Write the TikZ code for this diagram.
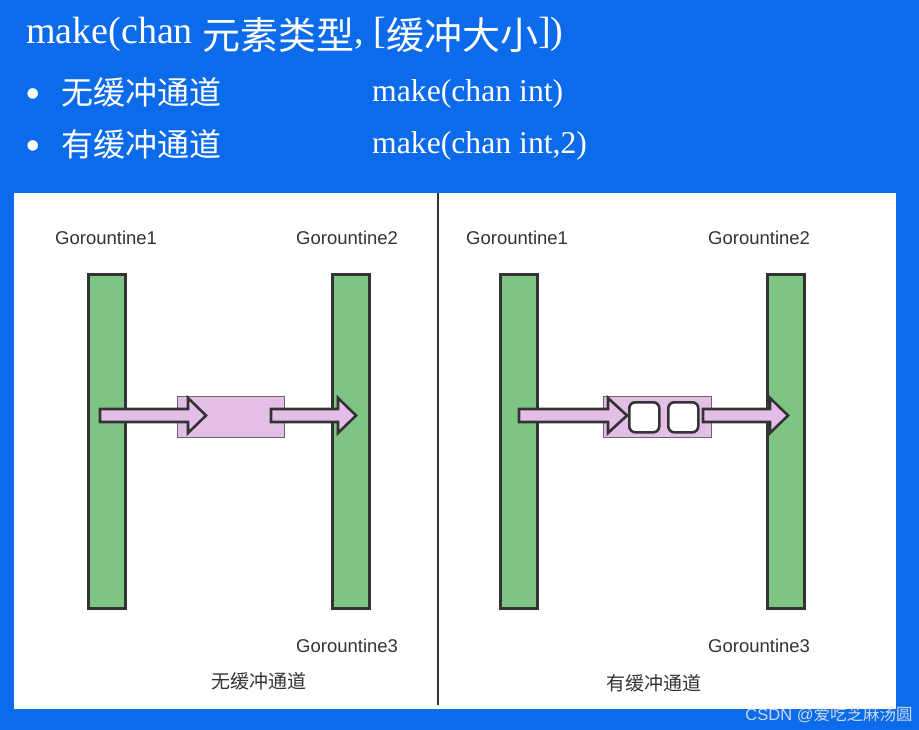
\documentclass[tikz,border=0pt]{standalone}
\usepackage{fontspec}
\setmainfont{Liberation Serif}
\newfontfamily\cjk{Noto Sans CJK SC}
\newfontfamily\lsans{Liberation Sans}
\definecolor{bgblue}{RGB}{12,107,234}
\definecolor{bargreen}{RGB}{126,196,131}
\definecolor{chanpink}{RGB}{227,191,232}
\definecolor{edgegray}{RGB}{51,51,51}
\newcommand\fatarrow[4]{%
  \draw[fatarr] (#1,{#4-6.5}) -- (#2,{#4-6.5}) -- (#2,{#4-17.5}) -- (#3,#4)
    -- (#2,{#4+17.5}) -- (#2,{#4+6.5}) -- (#1,{#4+6.5}) -- cycle;}
\begin{document}
\begin{tikzpicture}[x=1pt,y=-1pt,
  bar/.style={draw=edgegray,line width=2.8pt,fill=bargreen,inner sep=0pt,
    minimum width=37pt,minimum height=334pt,anchor=north west},
  fatarr/.style={draw=edgegray,line width=2.6pt,fill=chanpink},
  chanbox/.style={draw=gray!80!black,line width=1.1pt,fill=chanpink,inner sep=0pt,
    anchor=north west},
  slot/.style={draw=edgegray,line width=2.6pt,fill=white,rounded corners=6pt,
    inner sep=0pt,minimum width=30pt,minimum height=30pt,anchor=north west},
  glabel/.style={inner sep=0pt,anchor=base west,text=edgegray,
    font=\lsans\fontsize{18.5}{20}\selectfont},
  caption/.style={inner sep=0pt,text=edgegray,font=\cjk\fontsize{19}{21}\selectfont},
  head/.style={inner sep=0pt,anchor=base west,text=white},
  bul/.style={inner sep=0pt,anchor=base,text=white,font=\fontsize{44}{46}\selectfont}]
\useasboundingbox (0,0) rectangle (919,730);
\fill[bgblue] (0,0) rectangle (919,730);
% header
\node[head,font=\fontsize{38}{40}\selectfont] (title) at (26,44)
  {make(chan \raisebox{-6pt}{\cjk 元素类型}, [\raisebox{-6pt}{\cjk 缓冲大小}])};
\node[bul] (b1) at (33.5,109) {•};
\node[head,font=\cjk\fontsize{32}{34}\selectfont] (t1) at (61,105) {无缓冲通道};
\node[head,font=\fontsize{31.7}{34}\selectfont] (c1) at (372,102) {make(chan int)};
\node[bul] (b2) at (33.5,161) {•};
\node[head,font=\cjk\fontsize{32}{34}\selectfont] (t2) at (61,157) {有缓冲通道};
\node[head,font=\fontsize{31.7}{34}\selectfont] (c2) at (372,154) {make(chan int,2)};
% panel
\fill[white] (14,193) rectangle (896,709);
\draw[edgegray,line width=2pt] (438,193) -- (438,705);
% left panel
\node[glabel] (lg1) at (55,245) {Gorountine1};
\node[glabel] (lg2) at (296,245) {Gorountine2};
\node[glabel] (lg3) at (296,652) {Gorountine3};
\node[bar] (lb1) at (87,273) {};
\node[bar] (lb2) at (331,273) {};
\node[chanbox,minimum width=107pt,minimum height=41pt] (lbox) at (177,396) {};
\fatarrow{100}{188}{206}{415.5}
\fatarrow{271}{338}{356}{415.5}
\node[caption] (lcap) at (259,681) {无缓冲通道};
% right panel
\node[glabel] (rg1) at (466,245) {Gorountine1};
\node[glabel] (rg2) at (708,245) {Gorountine2};
\node[glabel] (rg3) at (708,652) {Gorountine3};
\node[bar] (rb1) at (499,273) {};
\node[bar] (rb2) at (766,273) {};
\node[chanbox,minimum width=108pt,minimum height=41pt] (rbox) at (603,396) {};
\node[slot] (s1) at (628,401) {};
\node[slot] (s2) at (667,401) {};
\fatarrow{519}{608}{627}{415.5}
\fatarrow{703}{770}{788}{415.5}
\node[caption] (rcap) at (654,683) {有缓冲通道};
% watermark
\node[inner sep=0pt,text=gray!15,opacity=0.85,font=\lsans\fontsize{16.5}{18}\selectfont]
  (wm) at (829,715) {CSDN @{\cjk 爱吃芝麻汤圆}};
\end{tikzpicture}
\end{document}
